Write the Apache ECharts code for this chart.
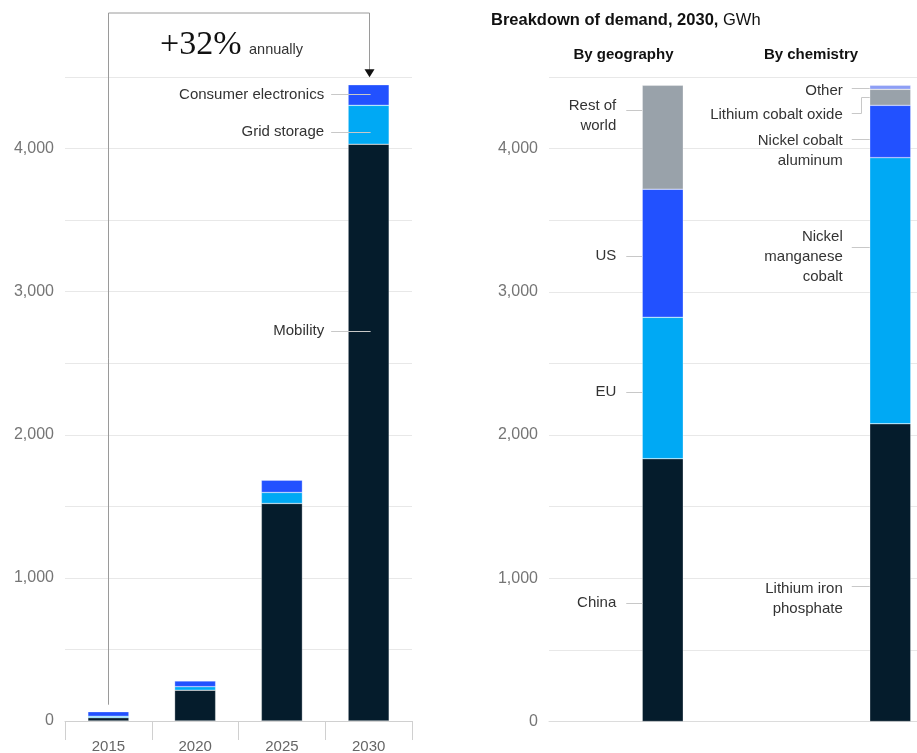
<!DOCTYPE html>
<html><head><meta charset="utf-8">
<script src="https://cdn.jsdelivr.net/npm/echarts@6/dist/echarts.min.js"></script>
<style>html,body{margin:0;padding:0;background:#fff}#c{width:917px;height:753px}</style>
</head><body><div id="c"></div>
<script>
// ---------- data ----------
const years = ['2015', '2020', '2025', '2030'];
const mobility = [23, 215, 1520, 4030];
const gridStorage = [10, 25, 77, 272];
const consumerElectronics = [32, 40, 86, 144];

const breakdownGroups = ['By geography', 'By chemistry'];
const geographyNames = ['China', 'EU', 'US', 'Rest of world'];
const geographyValues = [1835, 987, 895, 725];
const chemistryNames = ['Lithium iron phosphate', 'Nickel manganese cobalt', 'Nickel cobalt aluminum', 'Lithium cobalt oxide', 'Other'];
const chemistryValues = [2079, 1858, 365, 112, 28];

const yTickValues = [0, 1000, 2000, 3000, 4000];
const yTickLabels = ['0', '1,000', '2,000', '3,000', '4,000'];

// ---------- styles ----------
const FONT = '"Liberation Sans", Arial, Helvetica, sans-serif';
const DARK = '#051c2c', CYAN = '#00a9f4', BLUE = '#2251ff', GRAY = '#99a2aa', OTHER = '#8d9ef5';
const BAR_W = 41;

const chart = echarts.init(document.getElementById('c'), null, {renderer: 'canvas'});

function sum(arr) { return arr.reduce((a, b) => a + b, 0); }
const totals = years.map((_, i) => mobility[i] + gridStorage[i] + consumerElectronics[i]);

function barSeries(name, data, color, xi) {
  return {
    type: 'bar', name, data, xAxisIndex: xi, yAxisIndex: xi, stack: 's' + xi,
    barWidth: BAR_W, itemStyle: {color, borderColor: 'rgba(255,255,255,0.6)', borderWidth: 0.5},
    emphasis: {disabled: true}, silent: true, z: 2
  };
}

const leftSeries = [
  barSeries('Mobility', mobility, DARK, 0),
  barSeries('Grid storage', gridStorage, CYAN, 0),
  barSeries('Consumer electronics', consumerElectronics, BLUE, 0)
];
const geoColors = [DARK, CYAN, BLUE, GRAY];
const chemColors = [DARK, CYAN, BLUE, GRAY, OTHER];
const rightSeries = [];
geographyNames.forEach((n, i) => rightSeries.push(barSeries(n, [geographyValues[i], '-'], geoColors[i], 1)));
chemistryNames.forEach((n, i) => rightSeries.push(barSeries(n, ['-', chemistryValues[i]], chemColors[i], 1)));

// annotation anchors (value-space positions of leader lines)
const leftNotes = [
  {cat: 3, value: 4378, text: 'Consumer electronics'},
  {cat: 3, value: 4115, text: 'Grid storage'},
  {cat: 3, value: 2725, text: 'Mobility'}
];
const lcoMid = sum(chemistryValues.slice(0, 3)) + chemistryValues[3] / 2;
const rightNotes = [
  {cat: 0, value: 4268, text: 'Rest of\nworld', dy: -4},
  {cat: 0, value: 3252, text: 'US'},
  {cat: 0, value: 2300, text: 'EU'},
  {cat: 0, value: 827, text: 'China'},
  {cat: 1, value: 4425, text: 'Other', dy: 3},
  {cat: 1, value: 4247, text: 'Lithium cobalt oxide', dy: 2, elbowTo: lcoMid},
  {cat: 1, value: 4070, text: 'Nickel cobalt\naluminum', dy: 2},
  {cat: 1, value: 3315, text: 'Nickel\nmanganese\ncobalt', dy: -10},
  {cat: 1, value: 948, text: 'Lithium iron\nphosphate', dy: 3}
];

const snap = v => Math.round(v) + 0.5;
const labelStyle = {fill: '#333', font: '15px ' + FONT, lineHeight: 20};

const leftNoteSeries = {
  type: 'custom', xAxisIndex: 0, yAxisIndex: 0, z: 5, silent: true,
  data: leftNotes.map(n => [n.cat, n.value]),
  renderItem(params, api) {
    const n = leftNotes[params.dataIndex];
    const p = api.coord([n.cat, n.value]);
    const bl = p[0] - BAR_W / 2;
    const y = snap(p[1]);
    return {type: 'group', children: [
      {type: 'line', shape: {x1: bl - 17, y1: y, x2: p[0] + 2, y2: y}, style: {stroke: '#c8c8c8', lineWidth: 1}},
      {type: 'text', x: bl - 24, y: p[1], style: Object.assign({text: n.text, align: 'right', verticalAlign: 'middle'}, labelStyle)}
    ]};
  }
};

const rightNoteSeries = {
  type: 'custom', xAxisIndex: 1, yAxisIndex: 1, z: 5, silent: true,
  data: rightNotes.map(n => [n.cat, n.value]),
  renderItem(params, api) {
    const n = rightNotes[params.dataIndex];
    const p = api.coord([n.cat, n.value]);
    const bl = p[0] - BAR_W / 2;
    const y = snap(p[1]);
    const textEnd = n.cat === 0 ? bl - 26 : bl - 27;
    const lineStart = n.cat === 0 ? bl - 16 : bl - 18;
    const children = [];
    if (n.elbowTo !== undefined) {
      const ty = snap(api.coord([n.cat, n.elbowTo])[1]);
      const ex = Math.round(bl - 9) + 0.5;
      children.push({type: 'polyline', shape: {points: [[lineStart, y], [ex, y], [ex, ty], [bl, ty]]}, style: {stroke: '#c8c8c8', lineWidth: 1, fill: null}});
    } else {
      children.push({type: 'line', shape: {x1: lineStart, y1: y, x2: bl, y2: y}, style: {stroke: '#c8c8c8', lineWidth: 1}});
    }
    children.push({type: 'text', x: textEnd, y: p[1] + (n.dy || 0) - 10,
      style: Object.assign({text: n.text, align: 'right', verticalAlign: 'top'}, labelStyle)});
    return {type: 'group', children};
  }
};

const bracketSeries = {
  type: 'custom', xAxisIndex: 0, yAxisIndex: 0, z: 4, silent: true,
  data: [[3, totals[3]]],
  renderItem(params, api) {
    const a = api.coord([0, totals[0]]);
    const b = api.coord([3, totals[3]]);
    const top = params.coordSys.y - 64;
    const xa = snap(a[0]), xb = snap(b[0]);
    const tip = b[1] - 7.5;
    return {type: 'group', children: [
      {type: 'polyline', shape: {points: [[xa, a[1] - 7], [xa, top], [xb, top], [xb, tip - 7]]}, style: {stroke: '#9a9a9a', lineWidth: 1, fill: null}},
      {type: 'polygon', shape: {points: [[xb - 5, tip - 8], [xb + 5, tip - 8], [xb, tip]]}, style: {fill: '#111'}}
    ]};
  }
};

function yAxis(gi) {
  return {
    type: 'value', gridIndex: gi, min: 0, max: 4500, interval: 500,
    axisLine: {show: false}, axisTick: {show: false},
    splitLine: {lineStyle: {color: '#e8e8e8', width: 1}},
    axisLabel: {
      margin: 11, color: '#757575', fontSize: 16, fontFamily: FONT,
      formatter: v => { const i = yTickValues.indexOf(v); return i >= 0 ? yTickLabels[i] : ''; }
    }
  };
}

const option = {
  animation: false,
  backgroundColor: '#fff',
  grid: [
    {left: 65, top: 77, width: 347, height: 644, outerBoundsMode: 'none'},
    {left: 549, top: 77, width: 455, height: 644.5, outerBoundsMode: 'none'}
  ],
  xAxis: [
    {type: 'category', gridIndex: 0, data: years,
      axisLine: {lineStyle: {color: '#d0d0d0'}},
      axisTick: {show: true, alignWithLabel: false, length: 19, lineStyle: {color: '#d0d0d0'}},
      axisLabel: {margin: 18, color: '#666', fontSize: 15, fontFamily: FONT}},
    {type: 'category', gridIndex: 1, data: breakdownGroups,
      axisLine: {lineStyle: {color: '#dcdcdc'}}, axisTick: {show: false}, axisLabel: {show: false}}
  ],
  yAxis: [yAxis(0), yAxis(1)],
  series: [...leftSeries, ...rightSeries, leftNoteSeries, rightNoteSeries, bracketSeries],
  graphic: [
    {type: 'text', x: 160, y: 45, style: {text: '+32%', font: '34px "Liberation Serif", "DejaVu Serif", serif', fill: '#111', verticalAlign: 'middle'}},
    {type: 'text', x: 249, y: 50, style: {text: 'annually', font: '14.5px ' + FONT, fill: '#333', verticalAlign: 'middle'}},
    {type: 'text', x: 491, y: 20, style: {text: '{b|Breakdown of demand, 2030,} GWh', font: '16.5px ' + FONT, fill: '#111', verticalAlign: 'middle',
      rich: {b: {fontWeight: 'bold', fontSize: 16.5, fontFamily: FONT, fill: '#111'}}}},
    {type: 'text', x: 623.5, y: 55, style: {text: 'By geography', font: 'bold 15px ' + FONT, fill: '#111', align: 'center', verticalAlign: 'middle'}},
    {type: 'text', x: 811, y: 55, style: {text: 'By chemistry', font: 'bold 15px ' + FONT, fill: '#111', align: 'center', verticalAlign: 'middle'}}
  ]
};
chart.setOption(option);
</script>
</body></html>
